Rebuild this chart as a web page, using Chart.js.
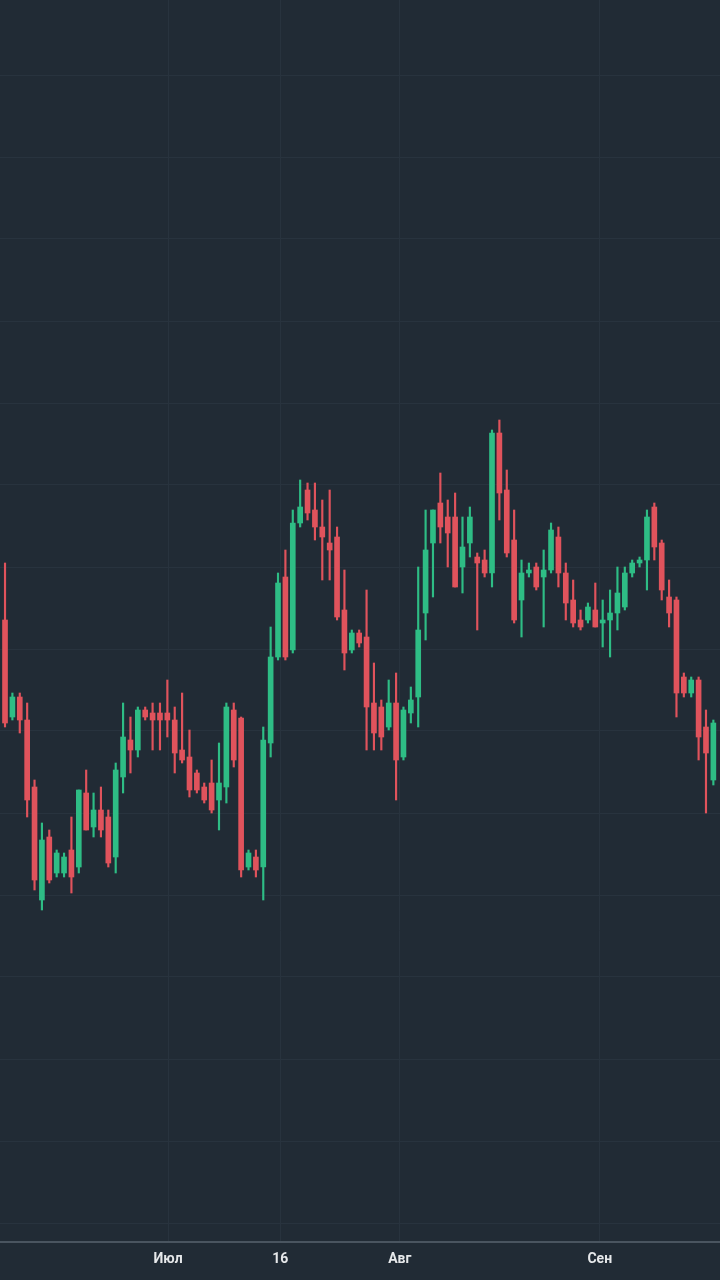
<!DOCTYPE html>
<html>
<head>
<meta charset="utf-8">
<script src="https://cdn.jsdelivr.net/npm/chart.js@4"></script>
<style>
  html, body { margin: 0; padding: 0; background: #212b35; }
  #wrap { width: 720px; height: 1280px; }
</style>
</head>
<body>
<div id="wrap"><canvas id="chart"></canvas></div>
<script>
// candles: [open, high, low, close]
var candles = [
  [380,437,273,277],[283,307,280,303],[303,307,267,280],[280,297,183,200],[213,220,110,120],
  [100,177,90,160],[163,170,117,120],[127,150,123,147],[127,147,123,143],[150,183,107,123],
  [133,210,127,210],[207,230,170,170],[173,207,163,190],[190,213,163,170],[183,190,133,137],
  [143,237,127,230],[223,297,207,263],[260,283,227,250],[250,293,243,290],[290,293,280,283],
  [287,297,250,280],[287,297,250,280],[287,320,263,280],[280,293,227,247],[250,307,237,240],
  [243,270,203,210],[227,230,207,210],[213,217,197,200],[217,240,187,190],[200,257,170,217],
  [213,297,197,293],[290,297,233,240],[282,283,123,130],[133,150,130,147],[143,150,123,130],
  [133,273,100,260],[257,373,243,343],[343,427,340,417],[423,450,340,343],[350,490,347,477],
  [477,520,473,493],[510,517,480,487],[490,517,460,473],[473,500,420,463],[457,510,420,450],
  [463,473,380,383],[390,430,330,347],[350,370,347,367],[367,370,353,357],[363,410,250,293],
  [297,337,250,267],[293,300,250,263],[273,320,270,297],[297,327,200,240],[243,293,240,290],
  [287,313,277,300],[303,433,273,370],[387,490,360,450],[457,490,403,490],[497,527,457,473],
  [483,500,433,467],[483,507,413,413],[433,483,407,453],[457,493,443,483],[443,447,370,437],
  [440,450,423,427],[427,570,413,567],[567,580,480,507],[510,530,443,447],[460,490,377,380],
  [400,440,363,427],[427,437,423,430],[433,437,410,413],[423,450,373,430],[430,477,427,470],
  [463,473,413,427],[427,437,380,397],[400,420,373,377],[380,390,370,373],[380,397,377,393],
  [390,417,373,373],[377,400,353,380],[380,410,343,387],[387,433,370,407],[393,433,390,427],
  [427,440,423,437],[437,443,433,440],[440,490,410,483],[493,497,440,453],[457,460,400,410],
  [403,420,373,387],[400,403,283,307],[323,327,303,307],[307,323,303,320],[320,323,240,263],
  [273,290,187,247],[220,280,215,277]
];
var tickPos = [22.1, 37.3, 53.5, 80.6];
var tickLabels = ['Июл', '16', 'Авг', 'Сен'];

var up = '#2ebd85', down = '#e0535c';

var bodies = candles.map(function(c, i) { return { x: i, y: [c[0], c[3]] }; });
var wicks = candles.map(function(c, i) { return { x: i, y: [c[2], c[1]] }; });
function colorOf(ctx) {
  var c = candles[ctx.dataIndex];
  return c && c[3] >= c[0] ? up : down;
}

new Chart(document.getElementById('chart'), {
  type: 'bar',
  data: {
    datasets: [
      { data: bodies, backgroundColor: colorOf, barThickness: 5, grouped: false, order: 0 },
      { data: wicks, backgroundColor: colorOf, barThickness: 1.5, grouped: false, order: 1 }
    ]
  },
  options: {
    responsive: true,
    maintainAspectRatio: false,
    animation: false,
    layout: { padding: 0 },
    plugins: { legend: { display: false }, tooltip: { enabled: false } },
    scales: {
      x: {
        type: 'linear',
        offset: false,
        min: -0.68,
        max: 96.9,
        afterBuildTicks: function(scale) {
          scale.ticks = tickPos.map(function(v) { return { value: v }; });
        },
        afterFit: function(scale) { scale.height = 38; },
        grid: { color: '#28333e', lineWidth: 1, drawTicks: false, offset: false },
        border: { color: '#4a5560', width: 2 },
        ticks: {
          autoSkip: false,
          maxRotation: 0,
          padding: 9,
          color: '#e6e8ea',
          font: { family: 'Roboto', size: 14, weight: 'bold' },
          callback: function(v) {
            var k = tickPos.indexOf(v);
            return k >= 0 ? tickLabels[k] : '';
          }
        }
      },
      y: {
        min: -242,
        max: 1000,
        afterBuildTicks: function(scale) {
          var t = [];
          for (var v = 925; v > -242; v -= 82) t.push({ value: v });
          scale.ticks = t;
        },
        afterFit: function(scale) { scale.width = 0; },
        grid: { color: '#28333e', lineWidth: 1, drawTicks: false },
        border: { display: false },
        ticks: { display: false }
      }
    }
  }
});
</script>
</body>
</html>
